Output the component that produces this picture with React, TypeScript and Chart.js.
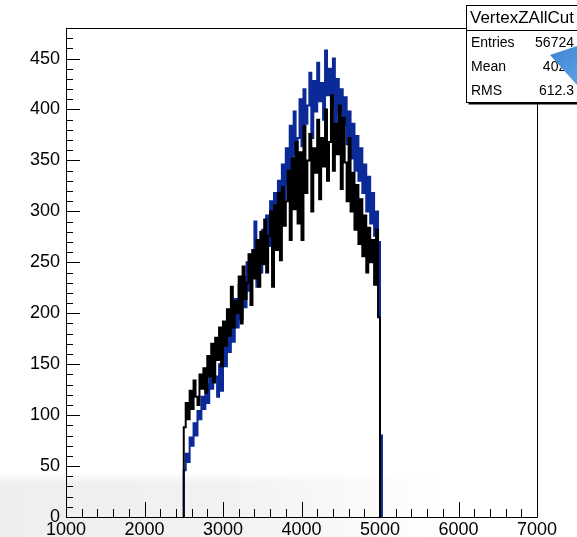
import React, { useEffect, useRef } from "react";
import { Chart, registerables } from "chart.js";

Chart.register(...registerables);

// Histogram binning (VertexZ, 25-unit bins starting at 2500)
const binStart = 2500;
const binWidth = 25;

// Black histogram: counts per bin
const blackCounts = [
  88, 112, 96, 124, 106, 134, 118, 110, 140, 126,
  146, 122, 158, 138, 170, 132, 176, 154, 186, 148,
  192, 168, 204, 178, 226, 186, 212, 200, 236, 190,
  246, 214, 230, 258, 208, 262, 234, 272, 226, 280,
  248, 292, 240, 276, 300, 226, 306, 262, 318, 252,
  324, 286, 310, 340, 272, 352, 302, 368, 288, 358,
  272, 384, 318, 350, 376, 300, 362, 338, 390, 312,
  372, 344, 400, 330, 368, 414, 340, 386, 356, 404,
  322, 392, 348, 310, 372, 300, 338, 282, 326, 268,
  312, 256, 296, 240, 284, 250, 272, 228, 282, 196,
];

// Blue histogram: counts per bin (one extra bin just past 5000)
const blueCounts = [
  46, 62, 54, 78, 70, 92, 80, 104, 96, 118,
  106, 130, 112, 148, 126, 162, 138, 118, 150, 124,
  170, 148, 184, 162, 200, 172, 214, 186, 228, 194,
  236, 206, 250, 222, 244, 262, 290, 226, 268, 240,
  282, 254, 296, 266, 310, 248, 318, 282, 330, 300,
  346, 312, 362, 326, 384, 340, 398, 356, 372, 410,
  364, 420, 386, 404, 436, 372, 428, 398, 446, 408,
  426, 390, 458, 414, 440, 402, 450, 380, 430, 396,
  420, 384, 412, 366, 398, 352, 386, 340, 374, 330,
  362, 318, 346, 300, 334, 288, 318, 276, 300, 270,
  80,
];

// Axis ticks
const xTickValues = [1000, 2000, 3000, 4000, 5000, 6000, 7000];
const yTickValues = [0, 50, 100, 150, 200, 250, 300, 350, 400, 450];
const xRange = [1000, 7000];
const yRange = [0, 480];

// Statistics box
const statsTitle = "VertexZAllCut";
const statsLabels = ["Entries", "Mean", "RMS"];
const statsValues = ["56724", "4025", "612.3"];

const FONT = "'Liberation Sans', Arial, Helvetica, sans-serif";

function histPoints(counts: number[]) {
  const pts: { x: number; y: number }[] = [{ x: binStart, y: 0 }];
  counts.forEach((c, i) => pts.push({ x: binStart + i * binWidth, y: c }));
  const end = binStart + counts.length * binWidth;
  pts.push({ x: end, y: counts[counts.length - 1] });
  pts.push({ x: end, y: 0 });
  return pts;
}

// Frame, inward tick marks, stats box
const rootStylePlugin = {
  id: "rootStyle",
  afterDraw(chart: any) {
    const { ctx, chartArea: a, scales } = chart;
    const xs = scales.x;
    const ys = scales.y;
    ctx.save();
    ctx.strokeStyle = "#000";
    ctx.lineWidth = 1;

    // frame
    ctx.beginPath();
    ctx.moveTo(Math.round(a.left) + 0.5, a.top);
    ctx.lineTo(Math.round(a.left) + 0.5, Math.round(a.bottom) + 0.5);
    ctx.lineTo(Math.round(a.right) + 0.5, Math.round(a.bottom) + 0.5);
    ctx.lineTo(Math.round(a.right) + 0.5, Math.round(a.top) + 0.5);
    ctx.lineTo(Math.round(a.left) + 0.5, Math.round(a.top) + 0.5);
    ctx.stroke();

    // y ticks
    ctx.beginPath();
    for (let v = yRange[0]; v <= yRange[1]; v += 10) {
      const py = Math.round(ys.getPixelForValue(v)) + 0.5;
      const len = v % 50 === 0 ? 14 : 7;
      ctx.moveTo(a.left, py);
      ctx.lineTo(a.left + len, py);
    }
    // x ticks
    for (let v = xRange[0]; v <= xRange[1]; v += 200) {
      const px = Math.round(xs.getPixelForValue(v)) + 0.5;
      const len = v % 1000 === 0 ? 15 : 8;
      ctx.moveTo(px, a.bottom);
      ctx.lineTo(px, a.bottom - len);
    }
    ctx.stroke();

    // stats box
    const bx = 466.5;
    const by = 5.5;
    const bw = 140;
    const bh = 97;
    ctx.fillStyle = "#000";
    ctx.fillRect(bx + 2, by + bh, bw, 2);
    ctx.fillStyle = "#fff";
    ctx.fillRect(bx, by, bw, bh);
    ctx.strokeRect(bx, by, bw, bh);
    ctx.beginPath();
    ctx.moveTo(bx, by + 25);
    ctx.lineTo(bx + bw, by + 25);
    ctx.stroke();

    ctx.fillStyle = "#000";
    ctx.textBaseline = "middle";
    ctx.textAlign = "left";
    ctx.font = `17px ${FONT}`;
    ctx.fillText(statsTitle, 470, by + 13);
    ctx.font = `14px ${FONT}`;
    statsLabels.forEach((lab, i) => {
      const ty = by + 38 + i * 24;
      ctx.textAlign = "left";
      ctx.fillText(lab, 471, ty);
      ctx.textAlign = "right";
      ctx.fillText(statsValues[i], 574, ty);
    });

    // folded corner overlay
    const g = ctx.createLinearGradient(550, 50, 577, 80);
    g.addColorStop(0, "#3f86d4");
    g.addColorStop(1, "#5a9fe2");
    ctx.fillStyle = g;
    ctx.beginPath();
    ctx.moveTo(550, 55);
    ctx.lineTo(577, 46);
    ctx.lineTo(577, 85);
    ctx.closePath();
    ctx.fill();
    ctx.restore();
  },
};

export default function App() {
  const canvasRef = useRef<HTMLCanvasElement | null>(null);

  useEffect(() => {
    const canvas = canvasRef.current;
    if (!canvas) return;
    const chart = new Chart(canvas, {
      type: "line",
      data: {
        datasets: [
          {
            label: "black",
            data: histPoints(blackCounts),
            borderColor: "#000000",
            borderWidth: 2,
            stepped: "before",
            pointRadius: 0,
            fill: false,
            order: 0,
          },
          {
            label: "blue",
            data: histPoints(blueCounts),
            borderColor: "#0b2a98",
            borderWidth: 2,
            stepped: "before",
            pointRadius: 0,
            fill: false,
            order: 1,
          },
        ],
      },
      options: {
        animation: false,
        responsive: false,
        events: [],
        layout: { padding: { top: 28, right: 40, left: 0, bottom: 0 } },
        plugins: {
          legend: { display: false },
          tooltip: { enabled: false },
          title: { display: false },
        },
        scales: {
          x: {
            type: "linear",
            min: xRange[0],
            max: xRange[1],
            grid: { display: false, drawTicks: false },
            border: { display: false },
            afterBuildTicks: (s: any) => {
              s.ticks = xTickValues.map((v) => ({ value: v }));
            },
            afterFit: (s: any) => {
              s.height = 20;
            },
            ticks: {
              autoSkip: false,
              maxRotation: 0,
              padding: 2,
              color: "#000",
              font: { family: FONT, size: 18 },
              callback: (v: any) => String(v),
            },
          },
          y: {
            type: "linear",
            min: yRange[0],
            max: yRange[1],
            grid: { display: false, drawTicks: false },
            border: { display: false },
            afterBuildTicks: (s: any) => {
              s.ticks = yTickValues.map((v) => ({ value: v }));
            },
            afterFit: (s: any) => {
              s.width = 66;
            },
            ticks: {
              autoSkip: false,
              padding: 6,
              color: "#000",
              font: { family: FONT, size: 18 },
              callback: (v: any) => String(v),
            },
          },
        },
      },
      plugins: [rootStylePlugin],
    });
    return () => chart.destroy();
  }, []);

  return (
    <div
      style={{
        position: "fixed",
        left: 0,
        top: 0,
        width: 577,
        height: 537,
        background: "#fff",
        overflow: "hidden",
      }}
    >
      <div
        style={{
          position: "absolute",
          left: -10,
          top: 478,
          width: 600,
          height: 70,
          filter: "blur(3px)",
          background:
            "linear-gradient(to right, rgba(0,0,0,0.065) 0%, rgba(0,0,0,0.05) 40%, rgba(0,0,0,0.025) 60%, rgba(0,0,0,0) 76%)",
        }}
      />
      <canvas
        ref={canvasRef}
        width={577}
        height={537}
        style={{ position: "absolute", left: 0, top: 0 }}
      />
    </div>
  );
}
